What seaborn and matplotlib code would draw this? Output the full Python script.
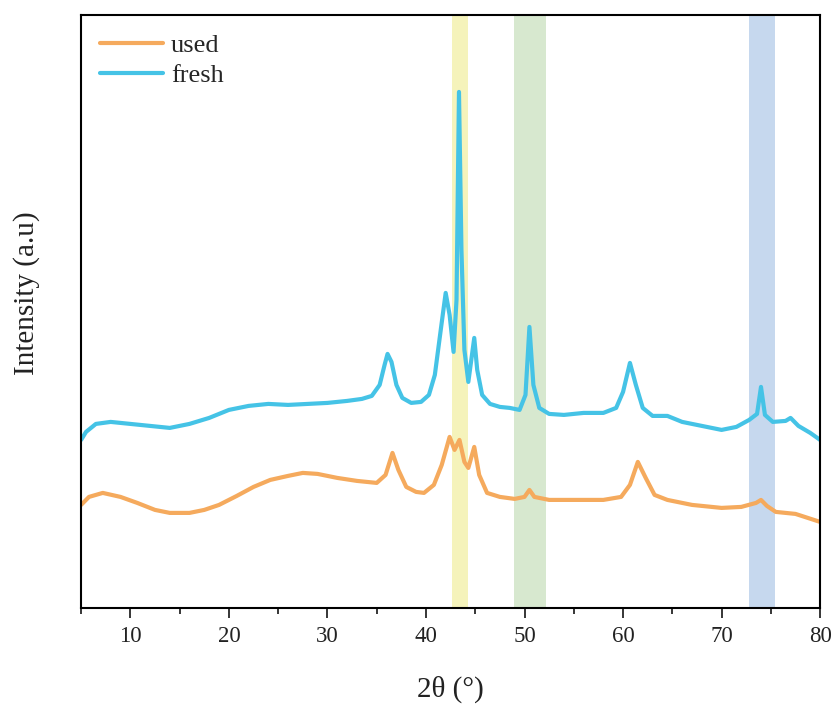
import pandas as pd
import seaborn as sns
import matplotlib.pyplot as plt
from matplotlib.ticker import MultipleLocator

# 2theta / intensity (arbitrary units)
fresh_2theta = [5.0, 5.5, 6.5, 8.0, 10.0, 12.0, 14.0, 16.0, 18.0, 20.0,
                22.0, 24.0, 26.0, 28.0, 30.0, 32.0, 33.5, 34.5, 35.3, 35.8,
                36.1, 36.5, 37.0, 37.6, 38.5, 39.5, 40.3, 40.9, 41.5, 42.0,
                42.4, 42.8, 43.1, 43.35, 43.6, 43.9, 44.3, 44.6, 44.9, 45.2,
                45.7, 46.5, 47.5, 48.5, 49.5, 50.1, 50.5, 50.9, 51.5, 52.5,
                54.0, 56.0, 58.0, 59.3, 60.0, 60.7, 61.3, 62.0, 63.0, 64.5,
                66.0, 68.0, 70.0, 71.5, 72.8, 73.6, 74.0, 74.4, 75.2, 76.5,
                77.0, 77.8, 79.0, 80.0]
fresh_int = [168, 176, 184, 186, 184, 182, 180, 184, 190, 198,
             202, 204, 203, 204, 205, 207, 209, 212, 223, 243,
             254, 246, 223, 210, 205, 206, 213, 233, 278, 315,
             293, 256, 308, 516, 358, 258, 226, 248, 270, 238,
             213, 204, 201, 200, 198, 213, 281, 223, 200, 194,
             193, 195, 195, 200, 216, 245, 223, 200, 192, 192,
             186, 182, 178, 181, 188, 194, 221, 193, 186, 187,
             190, 182, 175, 168]

used_2theta = [5.0, 5.8, 7.2, 9.0, 10.7, 12.5, 14.0, 16.0, 17.5, 19.0,
               20.8, 22.5, 24.2, 26.0, 27.5, 29.0, 31.0, 33.0, 35.0, 35.9,
               36.6, 37.2, 38.0, 39.0, 39.8, 40.8, 41.6, 42.4, 42.9, 43.4,
               43.9, 44.3, 44.9, 45.4, 46.2, 47.5, 49.0, 50.0, 50.5, 51.0,
               52.5, 55.0, 58.0, 59.8, 60.7, 61.5, 62.3, 63.2, 64.5, 67.0,
               70.0, 72.0, 73.5, 74.0, 74.6, 75.5, 77.5, 80.0]
used_int = [103, 111, 115, 111, 105, 98, 95, 95, 98, 103,
            112, 121, 128, 132, 135, 134, 130, 127, 125, 133,
            155, 138, 121, 116, 115, 123, 143, 171, 158, 168,
            146, 140, 161, 133, 115, 111, 109, 111, 118, 111,
            108, 108, 108, 111, 123, 146, 130, 113, 108, 103,
            100, 101, 105, 108, 102, 96, 94, 86]

# highlighted 2theta ranges
bands = [(42.65, 44.25), (48.95, 52.2), (72.8, 75.4)]
band_colors = ["#f5f3bb", "#d7e8cf", "#c6d8ee"]

sns.set_style("white")
plt.rcParams['font.family'] = ['Liberation Serif', 'DejaVu Serif']

fig = plt.figure(figsize=(8.36, 7.11), dpi=100)
ax = fig.add_axes([0.097, 0.145, 0.884, 0.834])

for (lo, hi), c in zip(bands, band_colors):
    ax.axvspan(lo, hi, color=c, lw=0, zorder=0)

used_df = pd.DataFrame({'two_theta': used_2theta, 'intensity': used_int})
fresh_df = pd.DataFrame({'two_theta': fresh_2theta, 'intensity': fresh_int})

sns.lineplot(x='two_theta', y='intensity', data=used_df, color="#f5aa5d",
             linewidth=3, label="used", ax=ax)
sns.lineplot(x='two_theta', y='intensity', data=fresh_df, color="#45c3e6",
             linewidth=3, label="fresh", ax=ax)

ax.set_xlim(5, 80)
ax.set_ylim(0, 593)
ax.set_yticks([])
ax.xaxis.set_major_locator(MultipleLocator(10))
ax.xaxis.set_minor_locator(MultipleLocator(5))
ax.tick_params(axis='x', which='major', direction='out', length=7, width=1.3,
               labelsize=16.5, labelcolor="#222222", bottom=True, pad=6)
ax.tick_params(axis='x', which='minor', direction='out', length=4, width=1.3,
               bottom=True)

for s in ax.spines.values():
    s.set_color("black")
    s.set_linewidth(1.5)

ax.set_xlabel("2θ (°)", fontsize=21, color="#222222")
ax.set_ylabel("Intensity (a.u)", fontsize=21, color="#222222")
ax.xaxis.set_label_coords(0.5, -0.115)
ax.yaxis.set_label_coords(-0.056, 0.53)

ax.legend(loc='upper left', frameon=False, fontsize=19, handlelength=2.4,
          handletextpad=0.3, labelspacing=0.25, borderaxespad=0.3)

plt.savefig("out.png", dpi=100)
